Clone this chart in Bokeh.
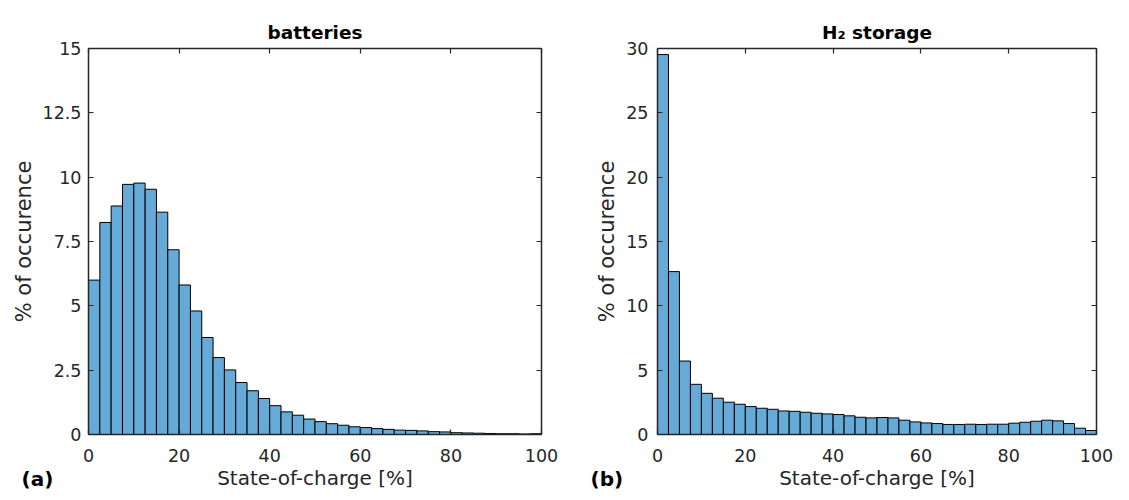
import numpy as np
from bokeh.plotting import figure
from bokeh.models import (Range1d, LinearAxis, FixedTicker, CustomJSTickFormatter,
                          Label, Title, ColumnDataSource)
from bokeh.layouts import row
from bokeh.embed import file_html
from bokeh.resources import INLINE

# ---- data ----
soc_edges = [i * 2.5 for i in range(41)]          # state-of-charge bin edges [%]
batteries_pct = [6.00, 8.24, 8.88, 9.72, 9.77, 9.53, 8.64, 7.18, 5.81, 4.80,
                 3.77, 2.99, 2.51, 2.02, 1.70, 1.40, 1.12, 0.88, 0.75, 0.60,
                 0.50, 0.42, 0.36, 0.30, 0.27, 0.23, 0.20, 0.17, 0.16, 0.14,
                 0.11, 0.10, 0.07, 0.06, 0.05, 0.04, 0.03, 0.03, 0.02, 0.03]
h2_pct = [29.53, 12.66, 5.71, 3.90, 3.20, 2.82, 2.51, 2.35, 2.17, 2.04,
          1.96, 1.83, 1.80, 1.73, 1.65, 1.60, 1.55, 1.45, 1.34, 1.29,
          1.32, 1.29, 1.11, 0.98, 0.90, 0.85, 0.78, 0.78, 0.80, 0.78,
          0.80, 0.80, 0.88, 0.95, 1.03, 1.11, 1.06, 0.85, 0.49, 0.31]
x_ticks = [0, 20, 40, 60, 80, 100]
bat_yticks = [0, 2.5, 5, 7.5, 10, 12.5, 15]
h2_yticks = [0, 5, 10, 15, 20, 25, 30]
titles = ["batteries", "H\u2082 storage"]
tags = ["(a)", "(b)"]
x_label = "State-of-charge [%]"
y_label = "% of occurence"

FONT = "DejaVu Sans"
AX = "#262626"
BAR = "#66AAD7"


def make_fig(vals, ymax, yticks, title, tag, tag_x, w, h, bl, br, bt, bb, ystand, ylstand):
    p = figure(width=w, height=h, title=None,
               min_border_left=bl, min_border_right=br,
               min_border_top=bt, min_border_bottom=bb,
               x_range=Range1d(0, 100), y_range=Range1d(0, ymax),
               output_backend="svg", toolbar_location=None)
    src = ColumnDataSource(dict(left=soc_edges[:-1], right=soc_edges[1:],
                                top=vals, bottom=[0] * len(vals)))
    p.quad(left="left", right="right", top="top", bottom="bottom", source=src,
           fill_color=BAR, line_color="black", line_width=1)
    p.xgrid.visible = False
    p.ygrid.visible = False
    p.outline_line_color = None
    p.background_fill_color = "white"
    p.border_fill_color = "white"

    fmt = CustomJSTickFormatter(code="return tick.toString()")
    blank = CustomJSTickFormatter(code="return ''")

    xa = p.xaxis[0]
    xa.ticker = FixedTicker(ticks=x_ticks)
    xa.formatter = fmt
    xa.axis_label = x_label
    ya = p.yaxis[0]
    ya.ticker = FixedTicker(ticks=yticks)
    ya.formatter = fmt
    ya.axis_label = y_label

    top_ax = LinearAxis(ticker=FixedTicker(ticks=x_ticks), formatter=blank)
    right_ax = LinearAxis(ticker=FixedTicker(ticks=yticks), formatter=blank)
    p.add_layout(top_ax, "above")
    p.add_layout(right_ax, "right")

    for ax in (xa, ya, top_ax, right_ax):
        ax.axis_line_color = AX
        ax.axis_line_width = 1.5
        ax.major_tick_line_color = AX
        ax.major_tick_line_width = 1.2
        ax.major_tick_in = 5
        ax.major_tick_out = 0
        ax.minor_tick_line_color = None
        ax.major_label_text_font = FONT
        ax.major_label_text_font_size = "17.5px"
        ax.major_label_text_color = AX
        ax.axis_label_text_font = FONT
        ax.axis_label_text_font_size = "20px"
        ax.axis_label_text_font_style = "normal"
        ax.axis_label_text_color = AX
    for ax in (top_ax, right_ax):
        ax.major_label_text_font_size = "0px"
        ax.major_label_standoff = 0
    ya.axis_label_text_font_size = "21px"
    xa.major_label_standoff = 14
    xa.axis_label_standoff = 1
    ya.major_label_standoff = ystand
    ya.axis_label_standoff = ylstand

    t = Title(text=title, align="center", text_font=FONT, text_font_size="18.5px",
              text_font_style="bold", text_color="black", standoff=12)
    p.add_layout(t, "above")
    # panel tag, placed in canvas coordinates (side panel so it is not clipped)
    p.add_layout(Label(x=tag_x, y=478, x_units="canvas", y_units="canvas", text=tag,
                       text_font=FONT, text_font_size="20px", text_font_style="bold",
                       text_color="black", text_baseline="middle", text_align="left"),
                 "right")
    return p


p1 = make_fig(batteries_pct, 15, bat_yticks, titles[0], tags[0], 21,
              583, 500, 88, 42, 48, 66, 7, 4)
p2 = make_fig(h2_pct, 30, h2_yticks, titles[1], tags[1], 7,
              546, 500, 74, 23, 47, 65, 9, 4)

layout = row(p1, p2)
open("out.html", "w").write(file_html(layout, INLINE))
